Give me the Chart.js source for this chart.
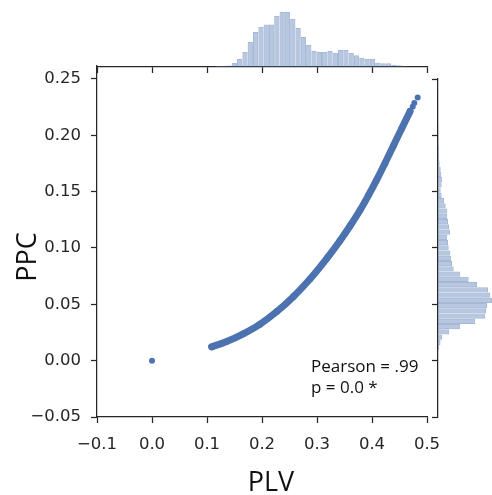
<!DOCTYPE html>
<html>
<head>
<meta charset="utf-8">
<script src="https://cdn.jsdelivr.net/npm/chart.js"></script>
<style>
  body { margin: 0; background: #fff; }
  #wrap { position: relative; width: 492px; height: 495px; overflow: hidden; background: #fff; }
  #wrap canvas { position: absolute; left: 0; top: 0; }
  .lbl { position: absolute; font-family: "Open Sans", sans-serif; color: #111; white-space: nowrap; }
</style>
</head>
<body>
<div id="wrap">
  <canvas id="main" width="492" height="495"></canvas>
  <canvas id="histTop" width="492" height="80"></canvas>
  <canvas id="histRight" width="492" height="495"></canvas>
  <div class="lbl" id="xTitle" style="left:221px; top:466px; width:100px; text-align:center; font-size:27px; line-height:30px;">PLV</div>
  <div class="lbl" id="yTitle" style="left:-24px; top:242px; width:100px; text-align:center; font-size:27px; line-height:30px; transform:rotate(-90deg);">PPC</div>
  <div class="lbl" id="stats" style="left:311px; top:355px; font-size:17px; line-height:21px;">Pearson = .99<br>p = 0.0 *</div>
</div>
<script>
// scatter: PLV vs PPC, read along the band
var bandPlv = [0.1085, 0.1358, 0.166, 0.196, 0.2267, 0.257, 0.2873, 0.319, 0.3418, 0.36, 0.3782, 0.3933, 0.4085, 0.4236, 0.4387, 0.454, 0.4691];
var bandPpc = [0.0122, 0.0170, 0.0238, 0.0322, 0.0435, 0.0568, 0.0725, 0.0915, 0.1065, 0.1195, 0.1335, 0.1465, 0.1605, 0.1752, 0.1905, 0.2060, 0.2212];
// a few loose points at the top end and the one at zero
var loosePlv = [0.474, 0.4769, 0.4831, 0.0];
var loosePpc = [0.2254, 0.2287, 0.2336, 0.0];

// marginal histogram of PLV (bin centres, bar heights)
var plvBins = [0.1208, 0.1304, 0.1401, 0.1497, 0.1594, 0.1691, 0.1787, 0.1884, 0.1981, 0.2077, 0.2174, 0.2270, 0.2367, 0.2463, 0.2560, 0.2657, 0.2753, 0.2850, 0.2946, 0.3043, 0.3140, 0.3236, 0.3333, 0.3429, 0.3526, 0.3622, 0.3719, 0.3816, 0.3912, 0.4009, 0.4105, 0.4202, 0.4298, 0.4395, 0.4492, 0.4588, 0.4685, 0.4781];
var plvCounts = [1, 1, 1.5, 4, 8, 15, 25, 35, 40, 42.5, 42.5, 51, 55, 55, 48, 39, 30, 22, 16, 15, 15, 16, 14.3, 17, 17, 14.3, 11.7, 9.3, 8.3, 8.3, 4.3, 3.7, 3.7, 2.3, 1.7, 0.7, 0.3, 0.3];

// marginal histogram of PPC
var ppcBins = [0.01165, 0.01631, 0.02097, 0.02563, 0.03029, 0.03495, 0.03961, 0.04427, 0.04893, 0.05359, 0.05825, 0.06291, 0.06757, 0.07223, 0.07689, 0.08155, 0.08621, 0.09087, 0.09553, 0.10019, 0.10485, 0.10951, 0.11417, 0.11883, 0.12349, 0.12815, 0.13281, 0.13747, 0.14213, 0.14679, 0.15145, 0.15611, 0.16077, 0.16543, 0.17009, 0.17475, 0.17941, 0.18407, 0.18873, 0.19339, 0.19805, 0.20271, 0.20737, 0.21203, 0.21669, 0.22135, 0.22601, 0.23067];
var ppcCounts = [1, 2.5, 4, 11.3, 22.3, 37.3, 47.3, 48, 49, 54, 52.3, 50, 39, 30.7, 22.3, 15.7, 14, 13.3, 12.3, 10.7, 10, 9.3, 12, 11, 10, 9.3, 9.3, 7.7, 6, 3.7, 2.7, 3.7, 4.3, 3.3, 2.7, 1.7, 1.3, 1, 1, 0.7, 0.7, 0.5, 0.5, 0.3, 0.3, 0.3, 0.3, 0.3];

var plvTicks = [-0.1, 0.0, 0.1, 0.2, 0.3, 0.4, 0.5];
var ppcTicks = [-0.05, 0.0, 0.05, 0.10, 0.15, 0.20, 0.25];

var blue = '#4C72B0';
var histFill = 'rgba(76,114,176,0.4)';
var histEdge = 'rgba(76,114,176,0.5)';
var dark = '#262626';

function fmt(v, d) {
  var s = Math.abs(v).toFixed(d);
  return v < -1e-9 ? '\u2212' + s : s;
}
function setTicks(list) {
  return function (scale) { scale.ticks = list.map(function (v) { return { value: v }; }); };
}
function pts(xs, ys) {
  return xs.map(function (x, i) { return { x: x, y: ys[i] }; });
}

var tickFont = { family: 'DejaVu Sans', size: 16.5 };

new Chart(document.getElementById('main'), {
  type: 'scatter',
  data: {
    datasets: [
      {
        data: pts(bandPlv, bandPpc),
        showLine: true,
        borderColor: blue,
        borderWidth: 7,
        borderCapStyle: 'round',
        borderJoinStyle: 'round',
        cubicInterpolationMode: 'monotone',
        backgroundColor: blue,
        pointRadius: 3.3,
        pointBorderWidth: 0
      },
      {
        data: pts(loosePlv, loosePpc),
        backgroundColor: blue,
        pointRadius: 3,
        pointBorderWidth: 0
      }
    ]
  },
  options: {
    responsive: false,
    animation: false,
    layout: { padding: { top: 66, right: 65, left: 0, bottom: 0 } },
    plugins: { legend: { display: false }, tooltip: { enabled: false } },
    scales: {
      x: {
        type: 'linear', min: -0.1, max: 0.5,
        afterBuildTicks: setTicks(plvTicks),
        afterFit: function (s) { s.height = 78; },
        ticks: { font: tickFont, color: dark, padding: 12, maxRotation: 0, callback: function (v) { return fmt(v, 1); } },
        grid: { drawOnChartArea: false, tickLength: 6, tickWidth: 1.25, tickColor: dark },
        border: { color: dark, width: 1.25 }
      },
      y: {
        type: 'linear', min: -0.05, max: 0.2615,
        afterBuildTicks: setTicks(ppcTicks),
        afterFit: function (s) { s.width = 97; },
        ticks: { font: tickFont, color: dark, padding: 10, callback: function (v) { return fmt(v, 2); } },
        grid: { drawOnChartArea: false, tickLength: 6, tickWidth: 1.25, tickColor: dark },
        border: { color: dark, width: 1.25 }
      }
    }
  }
});

new Chart(document.getElementById('histTop'), {
  type: 'bar',
  data: {
    datasets: [{
      data: pts(plvBins, plvCounts),
      backgroundColor: histFill,
      borderColor: histEdge,
      borderWidth: 1,
      barPercentage: 1.005,
      categoryPercentage: 1
    }]
  },
  options: {
    responsive: false,
    animation: false,
    layout: { padding: { top: 0, right: 65, left: 97, bottom: 0 } },
    plugins: { legend: { display: false }, tooltip: { enabled: false } },
    scales: {
      x: {
        type: 'linear', min: -0.1, max: 0.5, offset: false,
        afterBuildTicks: setTicks(plvTicks),
        afterFit: function (s) { s.height = 13; },
        ticks: { display: false },
        grid: { offset: false, drawOnChartArea: false, tickLength: 6, tickWidth: 1.25, tickColor: dark },
        border: { color: dark, width: 1.25 }
      },
      y: { display: false, min: 0, max: 67 }
    }
  }
});

new Chart(document.getElementById('histRight'), {
  type: 'bar',
  data: {
    datasets: [{
      data: pts(ppcCounts, ppcBins),
      backgroundColor: histFill,
      borderColor: histEdge,
      borderWidth: 1,
      barPercentage: 1.005,
      categoryPercentage: 1
    }]
  },
  options: {
    indexAxis: 'y',
    responsive: false,
    animation: false,
    layout: { padding: { top: 79, right: 0, left: 432, bottom: 78 } },
    plugins: { legend: { display: false }, tooltip: { enabled: false } },
    scales: {
      y: {
        type: 'linear', position: 'left', min: -0.05, max: 0.25, offset: false,
        afterBuildTicks: setTicks(ppcTicks),
        afterFit: function (s) { s.width = 6; },
        ticks: { display: false },
        grid: { offset: false, drawOnChartArea: false, tickLength: 6, tickWidth: 1.25, tickColor: dark },
        border: { color: dark, width: 1.25 }
      },
      x: { display: false, min: 0, max: 54 }
    }
  }
});
</script>
</body>
</html>
